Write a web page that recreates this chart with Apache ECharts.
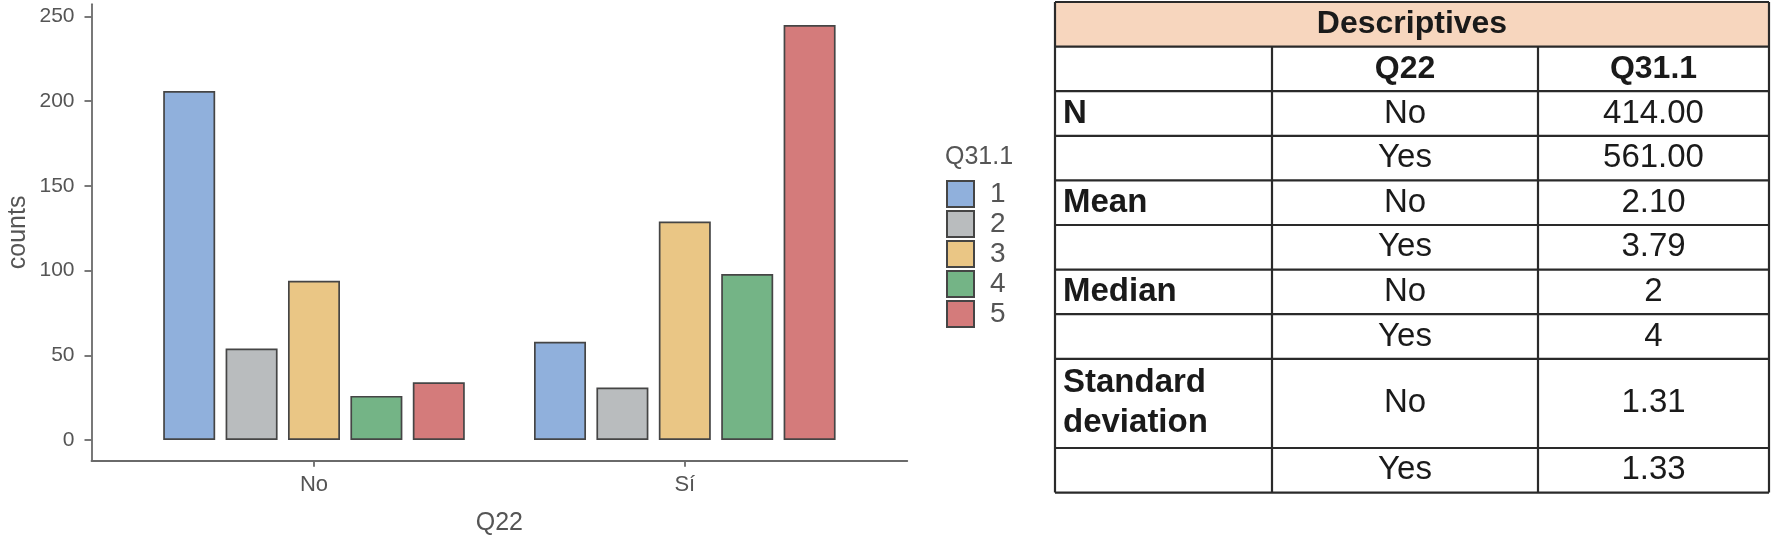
<!DOCTYPE html>
<html><head><meta charset="utf-8">
<script src="https://cdn.jsdelivr.net/npm/echarts@6/dist/echarts.min.js"></script>
<style>html,body{margin:0;padding:0;background:#fff}#c{width:1775px;height:537px}</style>
</head><body><div id="c"></div>
<script>
// ---- data ----
const categories = ['No', 'Sí'];
const levels = ['1', '2', '3', '4', '5'];
const counts1 = [206, 58];
const counts2 = [54, 31];
const counts3 = [94, 129];
const counts4 = [26, 98];
const counts5 = [34, 245];
const yTicks = [0, 50, 100, 150, 200, 250];
const xTitle = 'Q22';
const yTitle = 'counts';
const legendTitle = 'Q31.1';

const tableTitle = 'Descriptives';
const tableHeader = ['', 'Q22', 'Q31.1'];
const statLabels = ['N', '', 'Mean', '', 'Median', '', 'Standard\ndeviation', ''];
const groupLabels = ['No', 'Yes', 'No', 'Yes', 'No', 'Yes', 'No', 'Yes'];
const statValues = ['414.00', '561.00', '2.10', '3.79', '2', '4', '1.31', '1.33'];
const rowSpans = [1, 1, 1, 1, 1, 1, 2, 1];

// ---- styles ----
const levelColors = ['#90B0DC', '#B9BCBE', '#EAC685', '#74B486', '#D47B7B'];
const allCounts = [counts1, counts2, counts3, counts4, counts5];
const axisColor = '#6a6a6a';
const labelColor = '#555';
const FONT = '"Liberation Sans", Arial, sans-serif';

const chart = echarts.init(document.getElementById('c'));

const series = levels.map((lv, k) => ({
  type: 'bar',
  name: lv,
  data: categories.map((c, i) => [i, allCounts[k][i]]),
  barWidth: 52,
  barGap: '20%',
  itemStyle: { color: levelColors[k], borderColor: '#454545', borderWidth: 1.7 },
  emphasis: { disabled: true }
}));

// ---- table graphics ----
const tx = [1055, 1272, 1538, 1769];
const rowH = 44.6;
const tTop = 2;
const graphics = [];
const tableLine = { stroke: '#2a2a2a', lineWidth: 2.2 };
const txtColor = '#1a1a1a';
const tableFontSize = 33;

graphics.push({ type: 'rect', shape: { x: tx[0], y: tTop, width: tx[3] - tx[0], height: rowH }, style: { fill: '#F7D6BE' }, silent: true });
graphics.push({ type: 'text', style: { text: tableTitle, x: (tx[0] + tx[3]) / 2, y: tTop + rowH / 2, align: 'center', verticalAlign: 'middle', font: 'bold ' + (tableFontSize - 1) + 'px ' + FONT, fill: txtColor }, silent: true });
let y = tTop + rowH;
const rowEdges = [tTop, y];
tableHeader.forEach((h, j) => {
  if (!h) return;
  graphics.push({ type: 'text', style: { text: h, x: (tx[j] + tx[j + 1]) / 2, y: y + rowH / 2, align: 'center', verticalAlign: 'middle', font: 'bold ' + (tableFontSize - 1) + 'px ' + FONT, fill: txtColor }, silent: true });
});
y += rowH;
rowEdges.push(y);
statLabels.forEach((lab, r) => {
  const h = rowH * rowSpans[r];
  const cy = y + h / 2;
  if (lab) {
    graphics.push({ type: 'text', style: { text: lab, x: tx[0] + 8, y: cy, align: 'left', verticalAlign: 'middle', lineHeight: 40, font: 'bold ' + tableFontSize + 'px ' + FONT, fill: txtColor }, silent: true });
  }
  graphics.push({ type: 'text', style: { text: groupLabels[r], x: (tx[1] + tx[2]) / 2, y: cy, align: 'center', verticalAlign: 'middle', font: tableFontSize + 'px ' + FONT, fill: txtColor }, silent: true });
  graphics.push({ type: 'text', style: { text: statValues[r], x: (tx[2] + tx[3]) / 2, y: cy, align: 'center', verticalAlign: 'middle', font: tableFontSize + 'px ' + FONT, fill: txtColor }, silent: true });
  y += h;
  rowEdges.push(y);
});
rowEdges.forEach(ry => {
  graphics.push({ type: 'line', shape: { x1: tx[0], y1: ry, x2: tx[3], y2: ry }, style: tableLine, silent: true });
});
[tx[0], tx[3]].forEach(cx => {
  graphics.push({ type: 'line', shape: { x1: cx, y1: tTop, x2: cx, y2: y }, style: tableLine, silent: true });
});
[tx[1], tx[2]].forEach(cx => {
  graphics.push({ type: 'line', shape: { x1: cx, y1: tTop + rowH, x2: cx, y2: y }, style: tableLine, silent: true });
});
// legend title
graphics.push({ type: 'text', style: { text: legendTitle, x: 945, y: 157, align: 'left', verticalAlign: 'middle', font: '25px ' + FONT, fill: labelColor }, silent: true });

chart.setOption({
  animation: false,
  backgroundColor: '#fff',
  textStyle: { fontFamily: FONT },
  grid: { left: 91.5, right: 1775 - 907.3, top: 4.2, bottom: 537 - 460.7, containLabel: false, outerBoundsMode: 'none' },
  xAxis: {
    type: 'value', min: -0.6, max: 1.6,
    axisLine: { show: true, onZero: false, lineStyle: { color: axisColor, width: 1.8 } },
    axisTick: { show: true, customValues: [0, 1], length: 6, lineStyle: { color: axisColor, width: 1.8 } },
    axisLabel: { customValues: [0, 1], formatter: v => categories[Math.round(v)], margin: 13, fontSize: 22, color: labelColor },
    splitLine: { show: false },
    name: xTitle, nameLocation: 'middle', nameGap: 50,
    nameTextStyle: { fontSize: 25, color: labelColor }
  },
  yAxis: {
    type: 'value', min: -12.25, max: 257.25,
    axisLine: { show: true, onZero: false, lineStyle: { color: axisColor, width: 1.8 } },
    axisTick: { show: true, customValues: yTicks, length: 7, lineStyle: { color: axisColor, width: 1.8 } },
    axisLabel: { customValues: yTicks, margin: 17, fontSize: 21, color: labelColor },
    splitLine: { show: false },
    name: yTitle, nameLocation: 'middle', nameGap: 61, nameRotate: 90,
    nameTextStyle: { fontSize: 25, color: labelColor }
  },
  legend: {
    orient: 'vertical', left: 946, top: 180, padding: 0,
    itemWidth: 27, itemHeight: 26, itemGap: 2,
    icon: 'rect', selectedMode: false,
    data: levels,
    textStyle: { fontSize: 28, color: labelColor, lineHeight: 26, padding: [0, 0, 0, 11] }
  },
  series: series,
  graphic: graphics
});
</script></body></html>
